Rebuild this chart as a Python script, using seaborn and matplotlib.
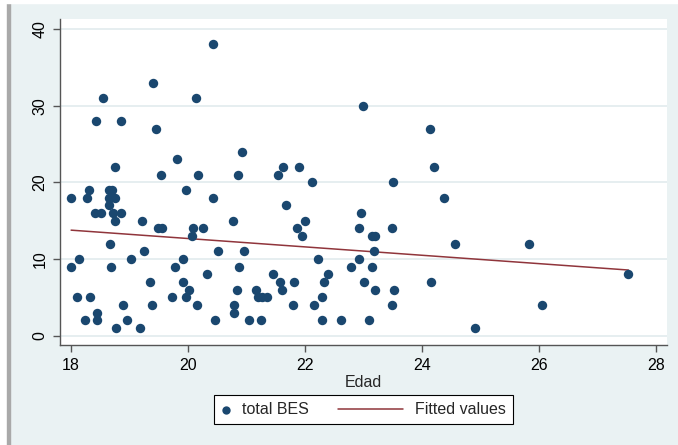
import numpy as np
import pandas as pd
import matplotlib
matplotlib.use('Agg')
import matplotlib.pyplot as plt
import seaborn as sns
from matplotlib.patches import Rectangle
from matplotlib.legend_handler import HandlerLine2D

# ages (Edad) and total BES score
edad = [20.42, 19.40, 18.55, 20.13, 18.42, 18.85, 19.45, 20.93, 19.81, 18.75,
        19.53, 20.17, 20.85, 18.30, 18.64, 18.70, 19.97, 18.00, 18.27, 18.64,
        18.75, 20.43, 18.64, 18.41, 18.51, 18.72, 18.85, 18.75, 19.21, 20.76,
        19.49, 19.56, 20.08, 20.25, 20.06, 18.67, 19.25, 20.52, 20.96, 18.14,
        19.03, 19.92, 18.00, 18.68, 19.77, 20.87, 20.32, 19.35, 19.91, 20.02,
        20.84, 21.17, 18.10, 18.32, 19.72, 19.97, 21.20, 21.27, 21.35, 18.89,
        19.38, 20.16, 20.79, 18.44, 20.79, 18.24, 18.44, 18.96, 20.46, 21.05,
        21.24, 18.76, 19.18,
        22.99, 24.14, 21.62, 21.89, 24.20, 21.54, 22.12, 23.51, 24.37, 21.67,
        22.95, 22.00, 21.87, 22.93, 23.48, 21.95, 23.15, 23.20, 24.57, 25.83,
        23.18, 22.22, 22.93, 22.78, 23.15, 21.46, 22.40, 27.53, 21.57, 21.82,
        22.32, 23.00, 24.15, 21.61, 23.19, 23.53, 22.29, 21.80, 22.16, 23.48,
        26.05, 22.29, 22.62, 23.10, 24.91]
bes = [38, 33, 31, 31, 28, 28, 27, 24, 23, 22,
       21, 21, 21, 19, 19, 19, 19, 18, 18, 18,
       18, 18, 17, 16, 16, 16, 16, 15, 15, 15,
       14, 14, 14, 14, 13, 12, 11, 11, 11, 10,
       10, 10, 9, 9, 9, 9, 8, 7, 7, 6,
       6, 6, 5, 5, 5, 5, 5, 5, 5, 4,
       4, 4, 4, 3, 3, 2, 2, 2, 2, 2,
       2, 1, 1,
       30, 27, 22, 22, 22, 21, 20, 20, 18, 17,
       16, 15, 14, 14, 14, 13, 13, 13, 12, 12,
       11, 10, 10, 9, 9, 8, 8, 8, 7, 7,
       7, 7, 7, 6, 6, 6, 5, 4, 4, 4,
       4, 2, 2, 2, 1]

x_ticks = [18, 20, 22, 24, 26, 28]
y_ticks = [0, 10, 20, 30, 40]

data = pd.DataFrame({'Edad': edad, 'total BES': bes})

sns.set_style('white')
plt.rcParams['font.family'] = ['Liberation Sans', 'DejaVu Sans']

bg = '#EAF2F3'
axis_col = '#555555'
fs = 11.5

fig = plt.figure(figsize=(6.78, 4.45), dpi=100, facecolor=bg)
# screenshot edges: white strip + grey line on the left, white line on top
fig.patches.append(Rectangle((0, 0), 7/678, 1, transform=fig.transFigure, color='white', zorder=0))
fig.patches.append(Rectangle((7/678, 0), 3/678, 1, transform=fig.transFigure, color='#A9A9A9', zorder=0))
fig.patches.append(Rectangle((0, 1 - 3/445), 1, 3/445, transform=fig.transFigure, color='white', zorder=0))

ax = fig.add_axes([60/678, 1 - 345/445, 607/678, 326/445])
ax.set_facecolor('white')

sns.scatterplot(data=data, x='Edad', y='total BES', ax=ax, color='#1A476F',
                s=46, linewidth=0, label='total BES', zorder=3)
sns.regplot(data=data, x='Edad', y='total BES', ax=ax, scatter=False, ci=None,
            color='#90353B', line_kws={'lw': 1.1, 'zorder': 2}, label='Fitted values')

ax.set_xlim(17.81, 28.19)
ax.set_ylim(-1.21, 41.3)
ax.set_xticks(x_ticks)
ax.set_yticks(y_ticks)
ax.grid(axis='y', color='#E4EDEF', lw=1.3, zorder=0)
ax.grid(axis='x', visible=False)

for side in ['top', 'right']:
    ax.spines[side].set_visible(False)
for side in ['left', 'bottom']:
    ax.spines[side].set_color(axis_col)
    ax.spines[side].set_linewidth(1.0)

ax.tick_params(axis='both', which='major', direction='out', length=5, width=1,
               color=axis_col, labelsize=fs, labelcolor='black', left=True, bottom=True)
ax.tick_params(axis='y', pad=4)
ax.tick_params(axis='x', pad=4.5)
for lab in ax.get_yticklabels():
    lab.set_rotation(90)
    lab.set_va('center')

ax.set_xlabel('Edad', fontsize=fs, labelpad=1.5)
ax.set_ylabel('')

handles, labels = ax.get_legend_handles_labels()
leg = ax.legend(handles, labels, loc='upper center', bbox_to_anchor=(0.5, -50/326),
                ncol=2, frameon=True, fancybox=False, edgecolor='black', framealpha=1,
                fontsize=fs, handlelength=0.6, handletextpad=0.75, columnspacing=5.3,
                borderpad=0.45, borderaxespad=0, scatterpoints=1,
                handler_map={handles[1]: HandlerLine2D(xpad=-3.5)})
leg.get_frame().set_linewidth(0.8)
leg.legend_handles[0].set_sizes([36])

fig.savefig('out.png', dpi=100, facecolor=bg)
